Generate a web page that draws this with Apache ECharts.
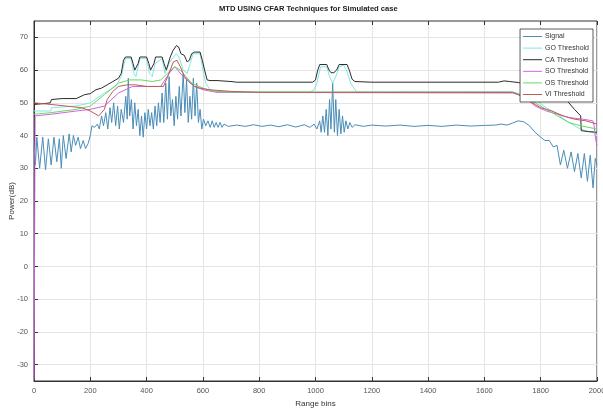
<!DOCTYPE html>
<html><head><meta charset="utf-8">
<script src="https://cdn.jsdelivr.net/npm/echarts@6/dist/echarts.min.js"></script>
<style>html,body{margin:0;padding:0;background:#fff}#c{width:603px;height:416px}</style>
</head><body><div id="c"></div>
<script>
const titleText = "MTD USING CFAR Techniques for Simulated case";
const yAxisTitle = "Power(dB)";
const xAxisTitle = "Range bins";
const xTicks = [0,200,400,600,800,1000,1200,1400,1600,1800,2000];
const yTicks = [-30,-20,-10,0,10,20,30,40,50,60,70];

const signalBins = [0,5,10,20,31,41,51,61,71,81,90,97,104,114,125,132,140,148,157,165,175,183,192,200,206,215,225,232,240,247,255,262,270,276,283,290,297,303,310,318,326,331,335,340,346,352,358,364,370,376,382,388,394,400,406,412,418,424,430,436,442,448,455,461,468,474,480,486,492,498,504,510,516,522,530,536,542,548,554,560,566,572,578,584,590,596,602,610,618,626,633,640,647,654,661,668,675,690,720,750,780,810,840,870,900,930,960,980,995,1005,1015,1020,1026,1032,1038,1044,1050,1055,1061,1067,1072,1078,1084,1090,1096,1102,1108,1115,1122,1130,1140,1170,1200,1250,1300,1350,1400,1450,1500,1550,1600,1640,1660,1680,1700,1720,1740,1760,1780,1800,1815,1830,1845,1858,1870,1882,1895,1908,1920,1932,1944,1955,1966,1976,1986,1994,2000];
const signalPower = [37,31,39.5,30,39.5,29.5,39,31,39.5,32,39,30,40,33,40.5,35,40,37,39.5,36,38.5,36,37.5,40,43,42.5,43.5,42,46,43,47,42,48.5,44,50,43,49,42,48,44,52,45,57.5,46,51,42,50,43,48,40,46,39.5,47,42,48,43,47,42,49,43,50,44,53,44,56,45,58,46,51,43,52,45,55,46,59,47,57,44,52,45,57.5,46,56,44,48,42,45,43,44.5,42.5,44.5,42.5,44,42.5,44,42.5,43.5,42.8,43.2,42.8,43.3,42.8,43.2,42.7,43.3,42.6,43.3,42.5,43.5,42,44.5,41,46,41,48,40,51,42,56,41,51,40,48,40.5,46,41,44.5,42,44,42.5,43.3,42.8,43.2,42.9,43.2,42.8,43.1,42.8,43.2,42.9,43.1,43.2,43.5,43.2,43.8,44.5,44.2,43,41,39.5,38.5,38.5,36.5,37,31,35.5,30,35,29,34.5,27,34.5,26,34,24,33,31];

const goBins = [0,60,62,150,200,250,290,310,320,325,345,355,362,370,376,400,410,420,430,455,465,472,480,495,506,515,530,544,555,565,590,600,610,625,650,700,980,995,1005,1018,1040,1050,1061,1072,1084,1100,1110,1125,1146,1160,1700,1740,1780,1820,1860,1900,1940,1980,2000];
const goPower = [47.5,47.5,48.5,49,50,53,55,58,62,63.5,63.5,59,58,61,63.5,63.5,59,58,62,63.5,59,58.5,62,64,65,64,60,59,62,65,65,60,56,54,53.5,53.3,53.3,54,56,61,61,58,56,58,61,61.5,60,56,53.3,53.3,53.3,52.5,51,48.5,46.5,44,42,41,40.5];

const caBins = [0,40,58,62,100,150,180,200,220,240,260,280,300,310,318,325,345,352,358,364,370,376,400,408,414,420,426,432,455,462,470,476,484,494,506,514,522,534,544,552,560,570,590,598,606,615,625,650,700,720,990,1000,1008,1015,1040,1048,1055,1065,1075,1084,1112,1120,1130,1140,1200,1650,1670,1690,1720,1760,1800,1830,1860,1880,1900,1920,1942,1944,1970,2000];
const caPower = [49.5,49.8,50,51,51.3,51.3,52.5,52.8,54,54.5,55.5,56.5,57.5,59,63,64,64,62,60,59.5,62,64,64,62,60,59.5,62,64,64,62,60,60.5,64,66,67.5,67,65,64.5,62.5,63,65,65.5,65.5,63,60,57,56.8,56.8,56.5,56.3,56.3,57,60,61.7,61.7,60,59.2,59.2,60,61.7,61.7,60,57.2,56.5,56.3,56.3,56.7,56.5,56.2,55.5,55,54,53,52,50,48,46,41.5,41.2,41];

const soBins = [0,2,4,60,150,200,250,300,350,400,450,480,500,530,570,600,650,1700,1740,1780,1820,1860,1900,1950,1985,1990,1995,2000];
const soPower = [-34.5,-34.5,46,46.5,47.5,48,49,53,55,55,55,59,61,58,55,54,53.2,53,52,49,47.5,46.5,45.5,45,44.5,43,39,37];

const osBins = [0,60,150,200,250,300,340,380,420,450,480,500,520,540,560,600,640,700,1700,1740,1780,1820,1860,1900,1940,2000];
const osPower = [46.5,47,48,49,52.5,56,57,57,56.5,57,59.5,61,60,58,56,54.5,53.5,53.3,53.3,52,50,48,46,44,43,42];

const viBins = [0,60,170,200,230,250,260,280,300,330,360,400,440,460,475,495,508,520,535,550,570,590,620,700,800,1700,1720,1760,1800,1840,1880,1920,1960,2000];
const viPower = [50,49.5,48.5,47.5,46,48,51,53.5,55,55.5,55.5,55,55,55,58,62.5,63,61,58,56.5,55,54.5,54,53.5,53.2,53.2,52.5,50.5,48.5,47.5,46,45,44.5,43.5];

const seriesNames = ["Signal","GO Threshold","CA Threshold","SO Threshold","OS Threshold","VI Threshold"];
const seriesColors = ["#4a8db8","#80e6e6","#2a2a2a","#cc66dd","#66d966","#c05a5a"];
const allBins = [signalBins,goBins,caBins,soBins,osBins,viBins];
const allPower = [signalPower,goPower,caPower,soPower,osPower,viPower];

const chart = echarts.init(document.getElementById('c'), null, {renderer:'canvas'});
const font = 'Liberation Sans, Arial, sans-serif';
chart.setOption({
  animation:false,
  backgroundColor:'#fff',
  title:{text:titleText,left:219,top:5,padding:0,
    textStyle:{fontSize:7.6,fontWeight:'bold',color:'#222',fontFamily:font}},
  legend:{orient:'vertical',right:10,top:29,icon:'rect',itemWidth:19,itemHeight:1,itemGap:2.6,
    backgroundColor:'#fff',borderColor:'#333',borderWidth:0.8,padding:[3,4,3,3],
    textStyle:{fontSize:7,lineHeight:9,color:'#333',fontFamily:font,padding:[0,0,0,-2]},
    data:seriesNames},
  graphic:[{type:'text',x:12,y:201,rotation:Math.PI/2,
    style:{text:yAxisTitle,fontSize:8,fill:'#333',fontFamily:font,align:'center',verticalAlign:'middle'}}],
  grid:{left:34,right:6,top:21,bottom:35,show:true,borderColor:'#333',borderWidth:1,backgroundColor:'#fff',
    outerBoundsMode:'none',containLabel:false},
  xAxis:[{type:'value',min:0,max:2000,interval:200,position:'bottom',
    name:xAxisTitle,nameLocation:'middle',nameGap:19,
    nameTextStyle:{fontSize:8,color:'#333',fontFamily:font},
    axisLine:{show:true,onZero:false,lineStyle:{color:'#333'}},
    axisTick:{show:true,inside:true,length:4,lineStyle:{color:'#333'}},
    axisLabel:{fontSize:7.5,color:'#555',margin:6,fontFamily:font,formatter:v=>String(v)},
    splitLine:{show:true,lineStyle:{color:'#e4e4e4',width:1}}},
   {type:'value',min:0,max:2000,interval:200,position:'top',
    axisLine:{show:false,onZero:false},axisTick:{show:true,inside:true,length:4,lineStyle:{color:'#333'}},
    axisLabel:{show:false},splitLine:{show:false}}],
  yAxis:{type:'value',min:-35,max:75,
    axisLine:{show:true,onZero:false,lineStyle:{color:'#333'}},
    axisTick:{show:true,inside:true,length:4,customValues:yTicks,lineStyle:{color:'#333'}},
    axisLabel:{fontSize:7.5,color:'#555',margin:6,fontFamily:font,customValues:yTicks},
    splitLine:{show:true,lineStyle:{color:'#e4e4e4',width:1}}},
  series: seriesNames.map((n,k)=>({
    name:n,type:'line',xAxisIndex:0,symbol:'none',smooth:false,
    lineStyle:{width:1,color:seriesColors[k]},itemStyle:{color:seriesColors[k]},
    data:allBins[k].map((b,i)=>[b,allPower[k][i]])
  }))
});
</script></body></html>
